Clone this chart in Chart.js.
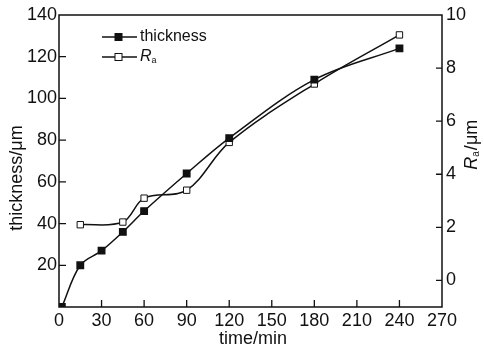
<!DOCTYPE html>
<html>
<head>
<meta charset="utf-8">
<script src="https://cdn.jsdelivr.net/npm/chart.js@4.4.0/dist/chart.umd.min.js"></script>
<style>
  html,body{margin:0;padding:0;background:#fff;}
  #wrap{width:484px;height:350px;}
</style>
</head>
<body>
<div id="wrap"><canvas id="c" width="484" height="350"></canvas></div>
<script>
// data
const thickTimes = [2, 15, 30, 45, 60, 90, 120, 180, 240];
const thickness  = [0, 20, 27, 36, 46, 64, 81, 109, 124];
const raTimes    = [15, 45, 60, 90, 120, 180, 240];
const raValues   = [2.1, 2.2, 3.1, 3.4, 5.2, 7.4, 9.25];

const timeTicks  = [0, 30, 60, 90, 120, 150, 180, 210, 240, 270];
const thickTicks = [0, 20, 40, 60, 80, 100, 120, 140];
const raTicks    = [0, 2, 4, 6, 8, 10];

const FONT = "'Liberation Sans', Arial, sans-serif";

const frame = {
  id: "frame",
  afterDraw(chart){
    const {ctx, chartArea:a, scales} = chart;
    ctx.save();
    ctx.strokeStyle = "#111";
    ctx.lineWidth = 1.5;
    ctx.strokeRect(a.left, a.top, a.right-a.left, a.bottom-a.top);
    ctx.lineWidth = 1.3;
    ctx.beginPath();
    // inward ticks
    timeTicks.slice(1,-1).forEach(v=>{
      const x = scales.x.getPixelForValue(v);
      ctx.moveTo(x, a.bottom); ctx.lineTo(x, a.bottom-7);
    });
    thickTicks.slice(1,-1).forEach(v=>{
      const y = scales.y.getPixelForValue(v);
      ctx.moveTo(a.left, y); ctx.lineTo(a.left+7, y);
    });
    raTicks.slice(0,-1).forEach(v=>{
      const y = scales.y2.getPixelForValue(v);
      ctx.moveTo(a.right, y); ctx.lineTo(a.right-6, y);
    });
    ctx.stroke();

    ctx.fillStyle = "#111";
    // axis titles
    ctx.font = "18px " + FONT;
    ctx.textAlign = "center"; ctx.textBaseline = "middle";
    ctx.fillText("time/min", 253, 339);
    ctx.save();
    ctx.translate(17, 178); ctx.rotate(-Math.PI/2);
    ctx.fillText("thickness/\u03bcm", 0, 0);
    ctx.restore();
    ctx.save();
    ctx.translate(472, 145); ctx.rotate(-Math.PI/2);
    ctx.textAlign = "left";
    ctx.font = "italic 18px " + FONT;
    let w = ctx.measureText("R").width;
    ctx.font = "18px " + FONT;
    w += ctx.measureText("a").width*0.6 + ctx.measureText("/\u03bcm").width;
    let x0 = -w/2;
    ctx.font = "italic 18px " + FONT;
    ctx.fillText("R", x0, 0); x0 += ctx.measureText("R").width;
    ctx.font = "10px " + FONT;
    ctx.fillText("a", x0, 4); x0 += ctx.measureText("a").width + 1;
    ctx.font = "18px " + FONT;
    ctx.fillText("/\u03bcm", x0, 0);
    ctx.restore();

    // legend
    const rows = [{y:37, fill:"#111"}, {y:57, fill:"#fff"}];
    rows.forEach((r,i)=>{
      ctx.lineWidth = 1.3;
      ctx.beginPath(); ctx.moveTo(102, r.y); ctx.lineTo(137, r.y); ctx.stroke();
      ctx.fillStyle = r.fill;
      ctx.fillRect(115, r.y-3.5, 7, 7);
      ctx.lineWidth = 1;
      ctx.strokeRect(115, r.y-3.5, 7, 7);
    });
    ctx.fillStyle = "#111";
    ctx.textAlign = "left";
    ctx.font = "16px " + FONT;
    ctx.fillText("thickness", 140, 37);
    ctx.font = "italic 16px " + FONT;
    ctx.fillText("R", 140, 57);
    const rw = ctx.measureText("R").width;
    ctx.font = "9px " + FONT;
    ctx.fillText("a", 140+rw, 61);
    ctx.restore();
  }
};

new Chart(document.getElementById("c"), {
  type: "line",
  data: {
    datasets: [
      {
        label: "thickness",
        data: thickTimes.map((t,i)=>({x:t, y:thickness[i]})),
        yAxisID: "y",
        borderColor: "#111", borderWidth: 1.5,
        pointStyle: "rect", pointRadius: 4.5,
        pointBackgroundColor: "#111", pointBorderColor: "#111",
        tension: 0.35
      },
      {
        label: "Ra",
        data: raTimes.map((t,i)=>({x:t, y:raValues[i]})),
        yAxisID: "y2",
        borderColor: "#111", borderWidth: 1.5,
        pointStyle: "rect", pointRadius: 4.5, pointBorderWidth: 1,
        pointBackgroundColor: "#fff", pointBorderColor: "#111",
        tension: 0.35
      }
    ]
  },
  options: {
    responsive: false, animation: false,
    layout: { padding: { top: 15, right: 0, left: 0, bottom: 0 } },
    plugins: { legend: { display: false }, tooltip: { enabled: false } },
    scales: {
      x: {
        type: "linear", min: 0, max: 270,
        afterBuildTicks: s => { s.ticks = timeTicks.map(v=>({value:v})); },
        afterFit: s => { s.height = 43; },
        grid: { display: false, drawTicks: false }, border: { display: false },
        ticks: { color: "#111", padding: 3, maxRotation: 0, font: { family: FONT, size: 18 } }
      },
      y: {
        position: "left", min: 0, max: 140,
        afterBuildTicks: s => { s.ticks = thickTicks.map(v=>({value:v})); },
        afterFit: s => { s.width = 59; },
        grid: { display: false, drawTicks: false }, border: { display: false },
        ticks: { color: "#111", padding: 2, callback: v => v === 0 ? "" : v, font: { family: FONT, size: 18 } }
      },
      y2: {
        position: "right", min: -1, max: 10,
        afterBuildTicks: s => { s.ticks = raTicks.map(v=>({value:v})); },
        afterFit: s => { s.width = 42; },
        grid: { display: false, drawTicks: false }, border: { display: false },
        ticks: { color: "#111", padding: 4, font: { family: FONT, size: 18 } }
      }
    }
  },
  plugins: [frame]
});
</script>
</body>
</html>
